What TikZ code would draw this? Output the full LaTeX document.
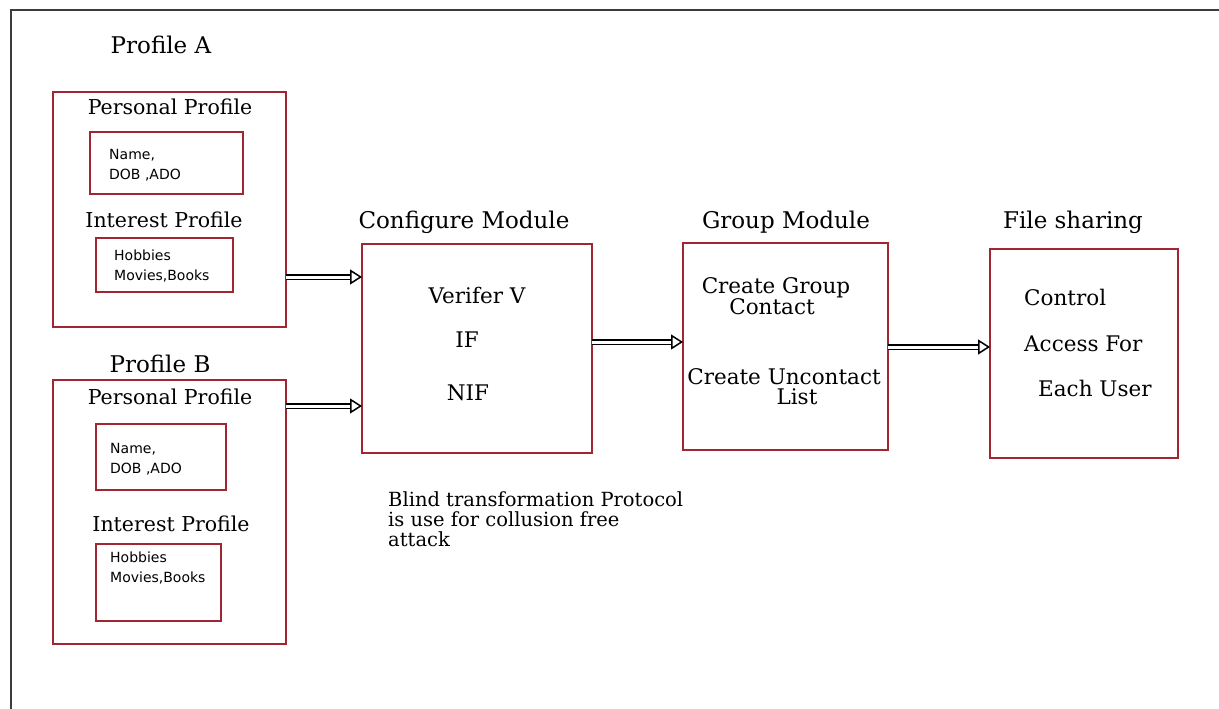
\documentclass[tikz,border=0pt]{standalone}
\usepackage{fontspec}
\setmainfont{DejaVu Serif}
\newfontfamily\smallsans{DejaVu Sans}
\usetikzlibrary{arrows.meta}
\definecolor{boxred}{RGB}{160,38,50}
\definecolor{frame}{RGB}{60,60,60}
\tikzset{
  rbox/.style={draw=boxred, line width=2pt},
  ttl/.style={font=\fontsize{23}{25}\selectfont, inner sep=0pt},
  sub/.style={font=\fontsize{20.5}{22}\selectfont, inner sep=0pt},
  tiny/.style={font=\smallsans\fontsize{14}{23}\selectfont, inner sep=0pt, anchor=west, align=left},
  body/.style={font=\fontsize{21.5}{23}\selectfont, inner sep=0pt},
  flow/.style={draw=black, double=white, double distance=3pt, line width=1.8pt,
    -{Triangle[open, fill=white, length=12pt, width=15pt, line width=1.5pt]}},
}
\begin{document}
\begin{tikzpicture}[x=1pt,y=-1pt]
\useasboundingbox (0,0) rectangle (1219,709);
\fill[white] (0,0) rectangle (1219,709);
\draw[frame, line width=2pt] (11,715) -- (11,10) -- (1225,10);

% Profile A
\node[ttl] (pa) at (161,45) {Profile A};
\draw[rbox] (53,92) rectangle (286,327);
\coordinate (paR) at (286,277);
\node[sub] (ppa) at (170,107) {Personal Profile};
\draw[rbox] (90,132) rectangle (243,194);
\node[tiny] (na) at (109,165) {Name,\\[-3pt]DOB ,ADO};
\node[sub] (ipa) at (164,220) {Interest Profile};
\draw[rbox] (96,238) rectangle (233,292);
\node[tiny] (ha) at (114,266) {Hobbies\\[-3pt]Movies,Books};

% Profile B
\node[ttl] (pb) at (160,364) {Profile B};
\draw[rbox] (53,380) rectangle (286,644);
\coordinate (pbR) at (286,406);
\node[sub] (ppb) at (170,397) {Personal Profile};
\draw[rbox] (96,424) rectangle (226,490);
\node[tiny] (nb) at (110,459) {Name,\\[-3pt]DOB ,ADO};
\node[sub] (ipb) at (171,524) {Interest Profile};
\draw[rbox] (96,544) rectangle (221,621);
\node[tiny] (hb) at (110,568) {Hobbies\\[-3pt]Movies,Books};

% Configure
\node[ttl] (ct) at (464,222) {Configure Module};
\draw[rbox] (362,244) rectangle (592,453);
\coordinate (cL1) at (362,277);
\coordinate (cL2) at (362,406);
\coordinate (cR) at (592,342);
\node[body] (vv) at (477,295) {Verifer V};
\node[body] (ifn) at (467,340) {IF};
\node[body] (nif) at (468,393) {NIF};
\node[font=\fontsize{19.5}{23}\selectfont, inner sep=0pt, anchor=north west, align=left] (bl) at (388,491) {Blind transformation Protocol\\[-3pt]is use for collusion free\\[-3pt]attack};

% Group
\node[ttl] (gt) at (786,222) {Group Module};
\draw[rbox] (683,243) rectangle (888,450);
\coordinate (gL) at (683,342);
\coordinate (gR) at (888,347);
\node[body] (cg) at (776,288) {Create Group};
\node[body] (cc) at (772,307) {Contact};
\node[body] (cu) at (784,377) {Create Uncontact};
\node[body] (li) at (797,397) {List};

% File sharing
\node[ttl] (ft) at (1073,222) {File sharing};
\draw[rbox] (990,249) rectangle (1178,458);
\coordinate (fL) at (990,347);
\node[body, anchor=west] (c1) at (1024,297) {Control};
\node[body, anchor=west] (c2) at (1024,344) {Access\ For};
\node[body, anchor=west] (c3) at (1038,388) {Each User};

% arrows
\draw[flow] (paR) -- (cL1);
\draw[flow] (pbR) -- (cL2);
\draw[flow] (cR) -- (gL);
\draw[flow] (gR) -- (fL);
\end{tikzpicture}
\end{document}
